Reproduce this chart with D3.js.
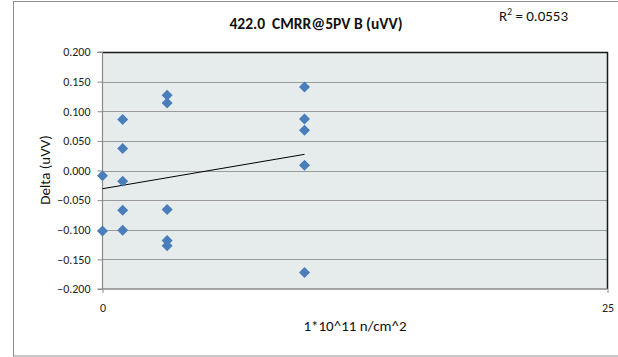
<!DOCTYPE html>
<html><head><meta charset="utf-8">
<script src="https://cdn.jsdelivr.net/npm/d3@7"></script>
<style>
html,body{margin:0;padding:0;background:#fff;}
svg{display:block;font-family:Calibri,Carlito,Lato,"Liberation Sans",sans-serif;}
text{white-space:pre;}
</style></head>
<body><svg id="c" width="618" height="357"></svg>
<script>
const xValues = [0, 0, 1, 1, 1, 1, 1, 3.2, 3.2, 3.2, 3.2, 3.2, 10, 10, 10, 10, 10];
const yValues = [-0.009, -0.102, 0.086, 0.037, -0.018, -0.067, -0.101, 0.127, 0.114, -0.066, -0.118, -0.127, 0.141, 0.087, 0.068, 0.009, -0.172];
const yTicks = [-0.2, -0.15, -0.1, -0.05, 0, 0.05, 0.1, 0.15, 0.2];
const xTicks = [0, 25];
const titleText = "422.0  CMRR@5PV B (uVV)";
const r2Text = "0.0553";
const xTitle = "1*10^11 n/cm^2";
const yTitle = "Delta (uVV)";

const svg = d3.select("#c");
const L = 102.5, R = 607.5, T = 52, B = 289;
const x = d3.scaleLinear().domain([0, 25]).range([L, R]);
const y = d3.scaleLinear().domain([-0.2, 0.2]).range([B, T]);

// outer chart border
svg.append("rect").attr("x", 13.5).attr("y", 1.5).attr("width", 620).attr("height", 354.5)
  .attr("fill", "#fff").attr("stroke", "#8c8c8c").attr("stroke-width", 1);

// plot area
svg.append("rect").attr("x", L).attr("y", T).attr("width", R - L).attr("height", B - T)
  .attr("fill", "#e6ecec");

// gridlines
svg.append("g").selectAll("line").data(yTicks.slice(1, -1)).join("line")
  .attr("x1", L).attr("x2", R)
  .attr("y1", d => Math.round(y(d)) + 0.5).attr("y2", d => Math.round(y(d)) + 0.5)
  .attr("stroke", "#9a9a9a").attr("stroke-width", 1);

// plot border top/right dark
svg.append("path").attr("d", `M${L},${T+0.5}H${R}V${B}`).attr("fill", "none")
  .attr("stroke", "#1a1a1a").attr("stroke-width", 1.5);

const tickFont = "Calibri,Carlito,Lato,sans-serif";
// y axis
const yAxis = d3.axisLeft(y).tickValues(yTicks).tickFormat(d3.format(".3f")).tickSize(5).tickPadding(7);
const gy = svg.append("g").attr("transform", `translate(${L},0)`).call(yAxis);
gy.select(".domain").attr("stroke", "#8a8a8a").attr("stroke-width", 1.2).attr("d", `M-5,${T}H0V${B}H-5`);
gy.selectAll(".tick line").attr("stroke", "#8a8a8a");
gy.selectAll(".tick text").attr("font-size", 12).attr("fill", "#222").attr("font-family", tickFont);

// x axis
const xAxis = d3.axisBottom(x).tickValues(xTicks).tickFormat(d3.format("d")).tickSize(4).tickPadding(10);
const gx = svg.append("g").attr("transform", `translate(0,${B})`).call(xAxis);
gx.select(".domain").attr("stroke", "#8a8a8a").attr("stroke-width", 1.5).attr("d", `M${L},0H${R}`);
gx.selectAll(".tick line").attr("stroke", "#8a8a8a");
gx.selectAll(".tick text").attr("font-size", 12).attr("fill", "#222").attr("font-family", tickFont);

// trendline (least squares)
const n = xValues.length;
const mx = d3.mean(xValues), my = d3.mean(yValues);
let sxy = 0, sxx = 0;
for (let i = 0; i < n; i++) { sxy += (xValues[i] - mx) * (yValues[i] - my); sxx += (xValues[i] - mx) ** 2; }
const slope = sxy / sxx, icpt = my - slope * mx;
const [x0, x1] = d3.extent(xValues);
svg.append("line").attr("x1", x(x0)).attr("x2", x(x1))
  .attr("y1", y(icpt + slope * x0)).attr("y2", y(icpt + slope * x1))
  .attr("stroke", "#000").attr("stroke-width", 1);

// markers
const s = 5.5;
svg.append("g").selectAll("path").data(xValues.map((d, i) => [d, yValues[i]])).join("path")
  .attr("d", d => { const cx = x(d[0]), cy = y(d[1]); return `M${cx},${cy - s}L${cx + s},${cy}L${cx},${cy + s}L${cx - s},${cy}Z`; })
  .attr("fill", "#4a7ebb");

// titles
svg.append("text").attr("x", 316).attr("y", 29).attr("text-anchor", "middle")
  .attr("font-size", 15.5).attr("font-weight", "bold").attr("fill", "#111").text(titleText);
const r2 = svg.append("text").attr("x", 499).attr("y", 21).attr("font-size", 15).attr("fill", "#111");
r2.append("tspan").text("R");
r2.append("tspan").attr("font-size", 9.5).attr("dy", -6).text("2");
r2.append("tspan").attr("dy", 6).text(" = " + r2Text);

svg.append("text").attr("x", 355).attr("y", 331).attr("text-anchor", "middle")
  .attr("font-size", 15).attr("fill", "#111").text(xTitle);
svg.append("text").attr("transform", "translate(50,170) rotate(-90)").attr("text-anchor", "middle")
  .attr("font-size", 15).attr("fill", "#111").text(yTitle);
</script></body></html>
